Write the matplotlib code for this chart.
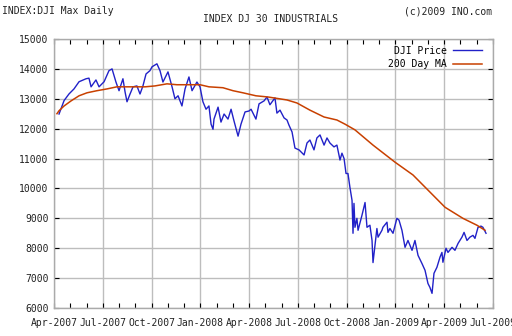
import matplotlib
matplotlib.use("Agg")
import matplotlib.pyplot as plt
from matplotlib.ticker import MultipleLocator

# x positions are months since 1 Apr 2007
tick_labels = ["Apr-2007", "Jul-2007", "Oct-2007", "Jan-2008", "Apr-2008",
               "Jul-2008", "Oct-2008", "Jan-2009", "Apr-2009", "Jul-2009"]

price_month = [0.31, 0.62, 0.92, 1.23, 1.54, 1.97, 2.15, 2.28, 2.58, 2.77,
               3.08, 3.38, 3.57, 3.81, 4.00, 4.24, 4.37, 4.49, 4.67, 4.86,
               5.10, 5.29, 5.47, 5.66, 5.90, 6.03, 6.33, 6.52, 6.70, 7.01,
               7.26, 7.44, 7.63, 7.87, 8.06, 8.30, 8.49, 8.79, 8.98, 9.16,
               9.35, 9.53, 9.66, 9.78, 9.84, 10.09, 10.27, 10.46, 10.70, 10.89,
               11.07, 11.32, 11.50, 11.75, 11.99, 12.12, 12.42, 12.61, 12.92, 13.10,
               13.28, 13.59, 13.71, 13.90, 14.15, 14.33, 14.45, 14.64, 14.82, 15.07,
               15.38, 15.56, 15.74, 15.99, 16.17, 16.36, 16.61, 16.79, 16.97, 17.22,
               17.40, 17.59, 17.71, 17.84, 17.96, 18.08, 18.20, 18.33, 18.39, 18.45,
               18.51, 18.63, 18.70, 18.94, 19.13, 19.25, 19.43, 19.56, 19.62, 19.86,
               19.93, 20.17, 20.23, 20.48, 20.54, 20.66, 20.85, 21.09, 21.22, 21.40,
               21.59, 21.77, 22.02, 22.20, 22.39, 22.63, 22.82, 23.00, 23.12, 23.25,
               23.37, 23.55, 23.74, 23.86, 23.92, 24.11, 24.23, 24.48, 24.66, 24.85,
               25.09, 25.22, 25.40, 25.58, 25.77, 25.89, 26.08, 26.26, 26.38, 26.57]
price = [12490, 12940, 13160, 13330, 13570, 13670, 13690, 13400, 13630, 13400,
         13570, 13940, 14000, 13560, 13270, 13670, 13230, 12900, 13150, 13400,
         13430, 13160, 13430, 13830, 13940, 14070, 14170, 13940, 13560, 13900,
         13400, 13000, 13100, 12760, 13330, 13730, 13270, 13560, 13400, 12900,
         12650, 12760, 12150, 11980, 12320, 12720, 12220, 12490, 12320, 12650,
         12260, 11750, 12150, 12560, 12590, 12650, 12320, 12830, 12930, 13060,
         12800, 13030, 12520, 12620, 12360, 12290, 12120, 11890, 11350, 11290,
         11120, 11520, 11620, 11290, 11690, 11790, 11450, 11690, 11520, 11390,
         11450, 10950, 11180, 11000, 10500, 10500, 10040, 9600, 8500, 9500,
         8700, 9000, 8600, 9100, 9530, 8700, 8770, 8260, 7520, 8660,
         8370, 8600, 8700, 8870, 8530, 8660, 8500, 9000, 8940, 8600,
         8030, 8260, 7930, 8260, 7760, 7490, 7260, 6820, 6690, 6490,
         7160, 7360, 7700, 7860, 7530, 8000, 7860, 8030, 7930, 8160,
         8370, 8530, 8260, 8370, 8430, 8330, 8700, 8740, 8700, 8500]

ma_month = [0.18, 0.31, 0.62, 1.05, 1.54, 2.03, 2.64, 3.26, 3.87, 5.60,
            6.21, 6.95, 7.56, 8.98, 9.53, 10.39, 11.01, 11.62, 12.42, 13.16,
            14.33, 14.94, 15.74, 16.61, 17.40, 17.90, 18.51, 19.62, 20.97, 22.08,
            23.12, 24.05, 25.15, 26.01, 26.51]
ma200 = [12500, 12600, 12760, 12930, 13100, 13200, 13270, 13330, 13400, 13400,
         13430, 13500, 13470, 13470, 13400, 13370, 13270, 13200, 13100, 13060,
         12960, 12860, 12620, 12390, 12290, 12150, 11960, 11450, 10880, 10450,
         9880, 9370, 9000, 8770, 8600]

font = "DejaVu Sans Mono"

fig = plt.figure(figsize=(5.12, 3.36), dpi=100)
ax = fig.add_axes([54 / 512, 1 - 308 / 336, 439 / 512, 269 / 336])

ax.plot(price_month, price, color="#2121c8", lw=1.0, label="DJI Price")
ax.plot(ma_month, ma200, color="#c84000", lw=1.1, label="200 Day MA")

ax.set_xlim(0, 27)
ax.set_ylim(6000, 15000)
ax.set_xticks(range(0, 28, 3))
ax.set_xticklabels(tick_labels, fontfamily=font, fontsize=7)
ax.xaxis.set_minor_locator(MultipleLocator(1))
ax.set_yticks(range(6000, 15001, 1000))
ax.set_yticklabels([str(v) for v in range(6000, 15001, 1000)], fontfamily=font, fontsize=7)

ax.grid(True, which="major", color="#bdbdbd", lw=1.0)
ax.tick_params(which="both", direction="in", top=True, right=True,
               length=3.5, width=0.8, color="black", labelcolor="#222222")
ax.tick_params(axis="x", pad=7)
ax.tick_params(axis="y", pad=4)
for s in ax.spines.values():
    s.set_color("#aaaaaa")
    s.set_linewidth(1.0)

# legend sits a few pixels in from the right edge, text left of the line
leg = ax.legend(loc="upper right", bbox_to_anchor=(1 - 4 / 439, 1),
                markerfirst=False, frameon=False,
                prop={"family": font, "size": 7}, handlelength=3.0,
                labelspacing=0.35, borderaxespad=0.3, handletextpad=0.6)

fig.text(2 / 512, 1 - 11 / 336, "INDEX:DJI Max Daily", fontfamily=font, fontsize=7,
         va="center", ha="left", color="#222222")
fig.text(492 / 512, 1 - 11 / 336, "(c)2009 INO.com", fontfamily=font, fontsize=7,
         va="center", ha="right", color="#222222")
fig.text(271 / 512, 1 - 19 / 336, "INDEX DJ 30 INDUSTRIALS", fontfamily=font, fontsize=7,
         va="center", ha="center", color="#222222")

fig.savefig("out.png", dpi=100)
